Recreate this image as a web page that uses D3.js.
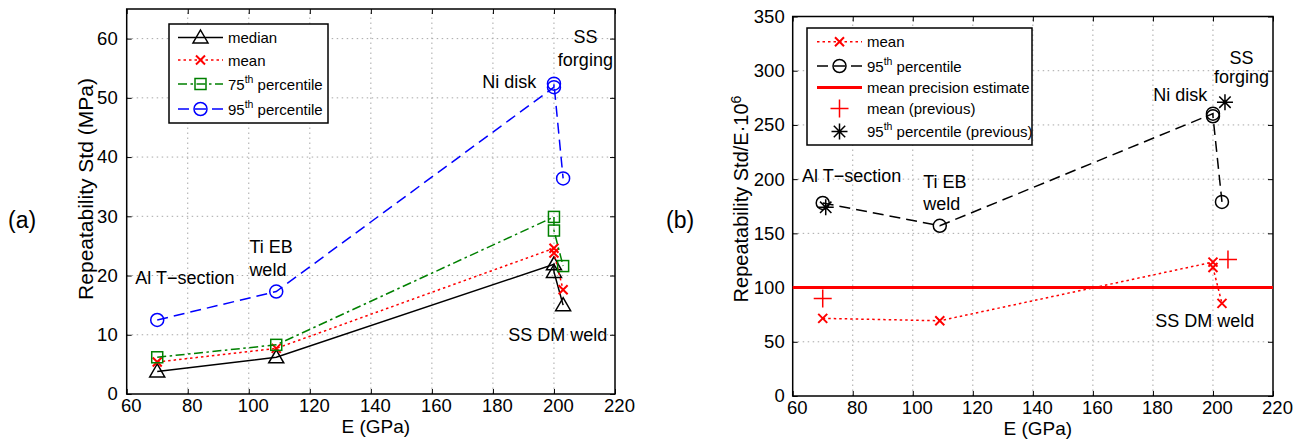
<!DOCTYPE html>
<html>
<head>
<meta charset="utf-8">
<script src="https://cdn.jsdelivr.net/npm/d3@7"></script>
<style>
  body { margin: 0; background: #fff; }
  svg { display: block; }
  text { font-family: "Liberation Sans", Arial, Helvetica, sans-serif; fill: #000; }
</style>
</head>
<body>
<svg id="chart" width="1294" height="445"></svg>
<script>
// ---- data -------------------------------------------------------------
// Elastic modulus of each material (Al T-section, Ti EB weld, Ni disk, SS forging, SS DM weld)
const modulus = [70, 109, 200, 200, 203];

// (a) repeatability standard deviation, MPa
const stdMedian = [3.8, 6.2, 21.9, 20.6, 15.0];
const stdMean   = [5.4, 7.7, 24.6, 23.8, 17.6];
const std75     = [6.2, 8.3, 29.9, 27.6, 21.6];
const std95     = [12.5, 17.3, 51.8, 52.4, 36.4];

// (b) repeatability standard deviation normalised by modulus, x 10^6
const normMean = [71.6, 69.4, 123.5, 118.5, 85.4];
const norm95   = [178, 157, 260.4, 258, 179];
const prevMeanModulus = [70, 205];
const prevMean        = [90, 126];
const prev95Modulus   = [71, 204];
const prev95          = [174, 271];
const precisionEstimate = 100;

// tick values
const xTicks  = [60, 80, 100, 120, 140, 160, 180, 200, 220];
const yTicksA = [0, 10, 20, 30, 40, 50, 60];
const yTicksB = [0, 50, 100, 150, 200, 250, 300, 350];

// ---- helpers ----------------------------------------------------------
const svg = d3.select("#chart");
const RED = "#ff0000", BLUE = "#0000ff", GREEN = "#008000", BLACK = "#000000";

function drawMarker(g, type, cx, cy, color) {
  const m = g.append("g").attr("transform", `translate(${cx},${cy})`)
    .attr("fill", "none").attr("stroke", color).attr("stroke-width", 1.5);
  if (type === "triangle") {
    m.append("path").attr("d", "M0,-7.5L7.5,5.5L-7.5,5.5Z");
  } else if (type === "circle") {
    m.append("circle").attr("r", 6.5);
  } else if (type === "square") {
    m.append("rect").attr("x", -5.5).attr("y", -5.5).attr("width", 11).attr("height", 11);
  } else if (type === "x") {
    m.append("path").attr("d", "M-4.5,-4.5L4.5,4.5M-4.5,4.5L4.5,-4.5").attr("stroke-width", 2);
  } else if (type === "plus") {
    m.append("path").attr("d", "M-9,0L9,0M0,-9L0,9");
  } else if (type === "star") {
    m.append("path").attr("d", "M-8,0L8,0M0,-8L0,8M-5.7,-5.7L5.7,5.7M-5.7,5.7L5.7,-5.7");
  }
}

function drawPanel(cfg) {
  const x = d3.scaleLinear([60, 220], [cfg.x0, cfg.x1]);
  const y = d3.scaleLinear([0, cfg.yMax], [cfg.yB, cfg.yT]);
  const g = svg.append("g");

  // dotted grid
  const grid = g.append("g").attr("stroke", "#a8a8a8").attr("stroke-width", 1)
    .attr("stroke-dasharray", "1.5,3.5");
  xTicks.slice(1, -1).forEach(v => grid.append("line")
    .attr("x1", x(v)).attr("x2", x(v)).attr("y1", cfg.yB).attr("y2", cfg.yT));
  cfg.yTicks.slice(1).forEach(v => { if (y(v) > cfg.yT + 1) grid.append("line")
    .attr("x1", cfg.x0).attr("x2", cfg.x1).attr("y1", y(v)).attr("y2", y(v)); });

  // axes with inward ticks
  const fmt = d3.format("d");
  const bottom = g.append("g").attr("transform", `translate(0,${cfg.yB})`)
    .call(d3.axisBottom(x).tickValues(xTicks).tickSizeInner(-5).tickSizeOuter(0)
      .tickPadding(5).tickFormat(fmt));
  bottom.selectAll("text").attr("x", 4).style("font-size", "18.5px");
  const left = g.append("g").attr("transform", `translate(${cfg.x0},0)`)
    .call(d3.axisLeft(y).tickValues(cfg.yTicks).tickSizeInner(-5).tickSizeOuter(0)
      .tickPadding(cfg.yPad).tickFormat(fmt));
  left.selectAll("text").style("font-size", "18.5px");
  g.append("g").attr("transform", `translate(0,${cfg.yT})`)
    .call(d3.axisTop(x).tickValues(xTicks).tickSizeInner(-5).tickSizeOuter(0).tickFormat(""));
  g.append("g").attr("transform", `translate(${cfg.x1},0)`)
    .call(d3.axisRight(y).tickValues(cfg.yTicks).tickSizeInner(-5).tickSizeOuter(0).tickFormat(""));
  g.selectAll(".domain").remove();
  g.selectAll(".tick line").attr("stroke", "#000").attr("stroke-width", 1);

  g.append("rect").attr("x", cfg.x0).attr("y", cfg.yT)
    .attr("width", cfg.x1 - cfg.x0).attr("height", cfg.yB - cfg.yT)
    .attr("fill", "none").attr("stroke", "#000").attr("stroke-width", 1.5);

  // axis titles
  g.append("text").attr("x", (cfg.x0 + cfg.x1) / 2 + 5).attr("y", cfg.yB + 39)
    .attr("text-anchor", "middle").style("font-size", "19px").text("E (GPa)");
  const yt = g.append("text")
    .attr("transform", `translate(${cfg.titleX},${cfg.titleY}) rotate(-90)`)
    .attr("text-anchor", "middle").style("font-size", cfg.titleSize);
  cfg.yTitle(yt);

  // panel tag
  svg.append("text").attr("x", cfg.tagX).attr("y", 228)
    .style("font-size", "23px").text(cfg.tag);

  return { g, x, y };
}

function drawSeries(p, xs, ys, s) {
  const pts = xs.map((d, i) => [d, ys[i]]);
  if (s.dash !== undefined) {
    p.g.append("path")
      .attr("d", d3.line().x(d => p.x(d[0])).y(d => p.y(d[1]))(pts))
      .attr("fill", "none").attr("stroke", s.color).attr("stroke-width", s.width || 1.5)
      .attr("stroke-dasharray", s.dash);
  }
  pts.forEach(d => drawMarker(p.g, s.marker, p.x(d[0]), p.y(d[1]), s.color));
}

function labelWithSup(t, before, sup, after) {
  t.append("tspan").text(before);
  t.append("tspan").attr("dy", -7).style("font-size", "0.7em").text(sup);
  t.append("tspan").attr("dy", 7).text(after);
}

function drawLegend(box, rows) {
  const g = svg.append("g");
  g.append("rect").attr("x", box.x).attr("y", box.y).attr("width", box.w).attr("height", box.h)
    .attr("fill", "#fff").attr("stroke", "#000").attr("stroke-width", 1.5);
  rows.forEach((r, i) => {
    const cy = box.rows[i];
    if (r.dash !== undefined) {
      g.append("line").attr("x1", box.lx0).attr("x2", box.lx1).attr("y1", cy).attr("y2", cy)
        .attr("stroke", r.color).attr("stroke-width", r.width || 1.5).attr("stroke-dasharray", r.dash);
    }
    if (r.marker) drawMarker(g, r.marker, (box.lx0 + box.lx1) / 2, cy, r.color);
    const t = g.append("text").attr("x", box.tx).attr("y", cy + 5.5).style("font-size", "15px");
    if (r.sup) labelWithSup(t, r.label[0], r.sup, r.label[1]); else t.text(r.label);
  });
}

function annotate(p, items) {
  items.forEach(a => p.g.append("text")
    .attr("x", p.x(a.e)).attr("y", p.y(a.v))
    .attr("text-anchor", a.anchor || "start")
    .style("font-size", "18px").text(a.text));
}

// ---- panel (a) --------------------------------------------------------
const pa = drawPanel({
  x0: 126.7, x1: 615, yB: 394, yT: 9, yMax: 65, yTicks: yTicksA, yPad: 9,
  titleX: 93, titleY: 189, titleSize: "21px", tag: "(a)", tagX: 8,
  yTitle: t => t.text("Repeatability Std (MPa)")
});

const seriesA = [
  { vals: stdMedian, color: BLACK, dash: null,        marker: "triangle", label: "median" },
  { vals: stdMean,   color: RED,   dash: "2.5,3",     marker: "x",        label: "mean" },
  { vals: std75,     color: GREEN, dash: "9,3.5,2.5,3.5", marker: "square", label: ["75", " percentile"], sup: "th" },
  { vals: std95,     color: BLUE,  dash: "11,6",      marker: "circle",   label: ["95", " percentile"], sup: "th" }
];
seriesA.forEach(s => drawSeries(pa, modulus, s.vals, s));

annotate(pa, [
  { text: "Al T\u2212section", e: 62.8, v: 18.6 },
  { text: "Ti EB", e: 100.2, v: 23.8 },
  { text: "weld", e: 100.2, v: 19.9 },
  { text: "Ni disk", e: 176.5, v: 51.6 },
  { text: "SS", e: 210.3, v: 59.2, anchor: "middle" },
  { text: "forging", e: 210.3, v: 55.4, anchor: "middle" },
  { text: "SS DM weld", e: 185.0, v: 9.0 }
]);

drawLegend({ x: 169, y: 24, w: 159, h: 99, rows: [37.5, 60, 84, 109],
             lx0: 178, lx1: 223, tx: 228 }, seriesA);

// ---- panel (b) --------------------------------------------------------
const pb = drawPanel({
  x0: 792.7, x1: 1273, yB: 396, yT: 16.5, yMax: 350, yTicks: yTicksB, yPad: 8,
  titleX: 748, titleY: 199, titleSize: "20px", tag: "(b)", tagX: 666,
  yTitle: t => labelWithSup(t, "Repeatability Std/E\u00b710", "6", "")
});

// horizontal precision estimate
pb.g.append("line")
  .attr("x1", pb.x(60)).attr("x2", pb.x(220))
  .attr("y1", pb.y(precisionEstimate)).attr("y2", pb.y(precisionEstimate))
  .attr("stroke", RED).attr("stroke-width", 3);

const seriesB = [
  { xs: modulus, vals: normMean, color: RED, dash: "2.5,3", marker: "x", label: "mean" },
  { xs: modulus, vals: norm95, color: BLACK, dash: "11,6", marker: "circle", label: ["95", " percentile"], sup: "th" },
  { xs: prevMeanModulus, vals: prevMean, color: RED, marker: "plus", label: "mean (previous)" },
  { xs: prev95Modulus, vals: prev95, color: BLACK, marker: "star", label: ["95", " percentile (previous)"], sup: "th" }
];
seriesB.forEach(s => drawSeries(pb, s.xs, s.vals, s));

annotate(pb, [
  { text: "Al T\u2212section", e: 63.1, v: 197.5 },
  { text: "Ti EB", e: 103.5, v: 191.5 },
  { text: "weld", e: 103.5, v: 171.3 },
  { text: "Ni disk", e: 180.1, v: 272.5 },
  { text: "SS", e: 209.5, v: 306.5, anchor: "middle" },
  { text: "forging", e: 209.5, v: 288.3, anchor: "middle" },
  { text: "SS DM weld", e: 180.8, v: 64 }
]);

const legendB = [
  seriesB[0], seriesB[1],
  { color: RED, dash: null, width: 3, label: "mean precision estimate" },
  seriesB[2], seriesB[3]
];
drawLegend({ x: 807, y: 28, w: 225, h: 117, rows: [41.7, 66, 87.5, 108.5, 131.5],
             lx0: 817, lx1: 862, tx: 867 }, legendB);
</script>
</body>
</html>
